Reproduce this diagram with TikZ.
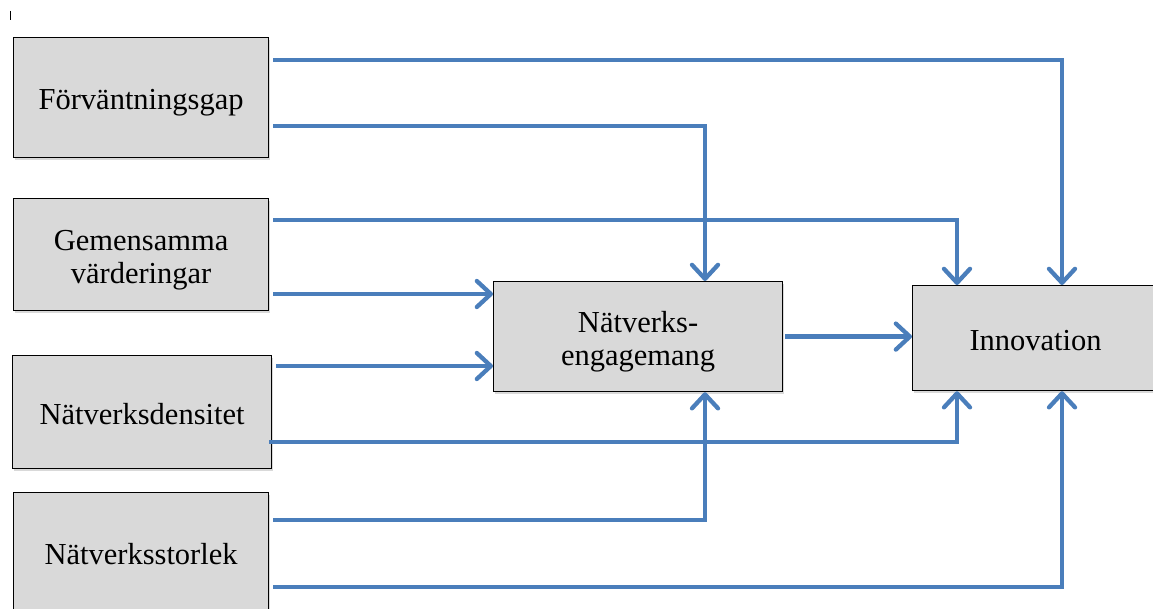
\documentclass[tikz,border=0pt]{standalone}
\usepackage{fontspec}
\setmainfont{Liberation Serif}
\usetikzlibrary{arrows.meta,shadows,calc}
\definecolor{boxgray}{HTML}{D9D9D9}
\definecolor{lineblue}{HTML}{4A7EBB}
\begin{document}
\begin{tikzpicture}[x=1pt,y=-1pt,
  box/.style={draw=black, line width=1.2pt, fill=boxgray, inner sep=0pt, anchor=north west,
    drop shadow={shadow xshift=1.5pt, shadow yshift=-2.5pt, opacity=0.3}},
  txt/.style={align=center, inner sep=0pt, font=\fontsize{30.5}{33}\selectfont},
  link/.style={draw=lineblue, line width=4.3pt, line join=miter,
    -{Straight Barb[length=14pt,width=26pt,line width=4.3pt,round]}}]
\useasboundingbox (0,0) rectangle (1153,609);
\draw[line width=0.8pt] (10,11) -- (10,20);
\node[box, minimum width=255pt, minimum height=120pt] (fg) at (13,37) {};
\node[box, minimum width=255pt, minimum height=112pt] (gv) at (13,198) {};
\node[box, minimum width=259pt, minimum height=113pt] (nd) at (12,355) {};
\node[box, minimum width=255pt, minimum height=122pt] (ns) at (13,492) {};
\node[box, minimum width=289pt, minimum height=110pt] (ne) at (493,281) {};
\node[box, minimum width=246pt, minimum height=105pt] (inn) at (912,285) {};
\node[txt] (fgt) at ($(fg.center)+(0,5)$) {Förväntningsgap};
\node[txt] (gvt) at ($(gv.center)+(0,6)$) {Gemensamma\\värderingar};
\node[txt] (ndt) at ($(nd.center)+(0,2)$) {Nätverksdensitet};
\node[txt] (nst) at ($(ns.center)+(0,0)$) {Nätverksstorlek};
\node[txt] (net) at ($(ne.center)+(0,5)$) {Nätverks-\\engagemang};
\node[txt] (innt) at ($(inn.center)+(0,2)$) {Innovation};
\coordinate (s1) at ($(fg.north east)+(4,23)$);
\coordinate (s2) at ($(fg.north east)+(4,89)$);
\coordinate (s3) at ($(gv.north east)+(4,22)$);
\coordinate (s4) at ($(gv.north east)+(4,96)$);
\coordinate (s5) at ($(nd.north east)+(4,11)$);
\coordinate (s6) at ($(nd.north east)+(-3,87)$);
\coordinate (s7) at ($(ns.north east)+(4,28)$);
\coordinate (s8) at ($(ns.north east)+(4,95)$);
\coordinate (s9) at ($(ne.east)+(2,0)$);
\draw[link] (s1) -| ($(inn.north west)+(150,0)$);
\draw[link] (s2) -| ($(ne.north west)+(212,0)$);
\draw[link] (s3) -| ($(inn.north west)+(45,0)$);
\draw[link] (s4) -- (s4 -| ne.west);
\draw[link] (s5) -- (s5 -| ne.west);
\draw[link] (s6) -| ($(inn.south west)+(45,0)$);
\draw[link] (s7) -| ($(ne.south west)+(212,0)$);
\draw[link] (s8) -| ($(inn.south west)+(150,0)$);
\draw[link] (s9) -- (s9 -| inn.west);
\end{tikzpicture}
\end{document}
